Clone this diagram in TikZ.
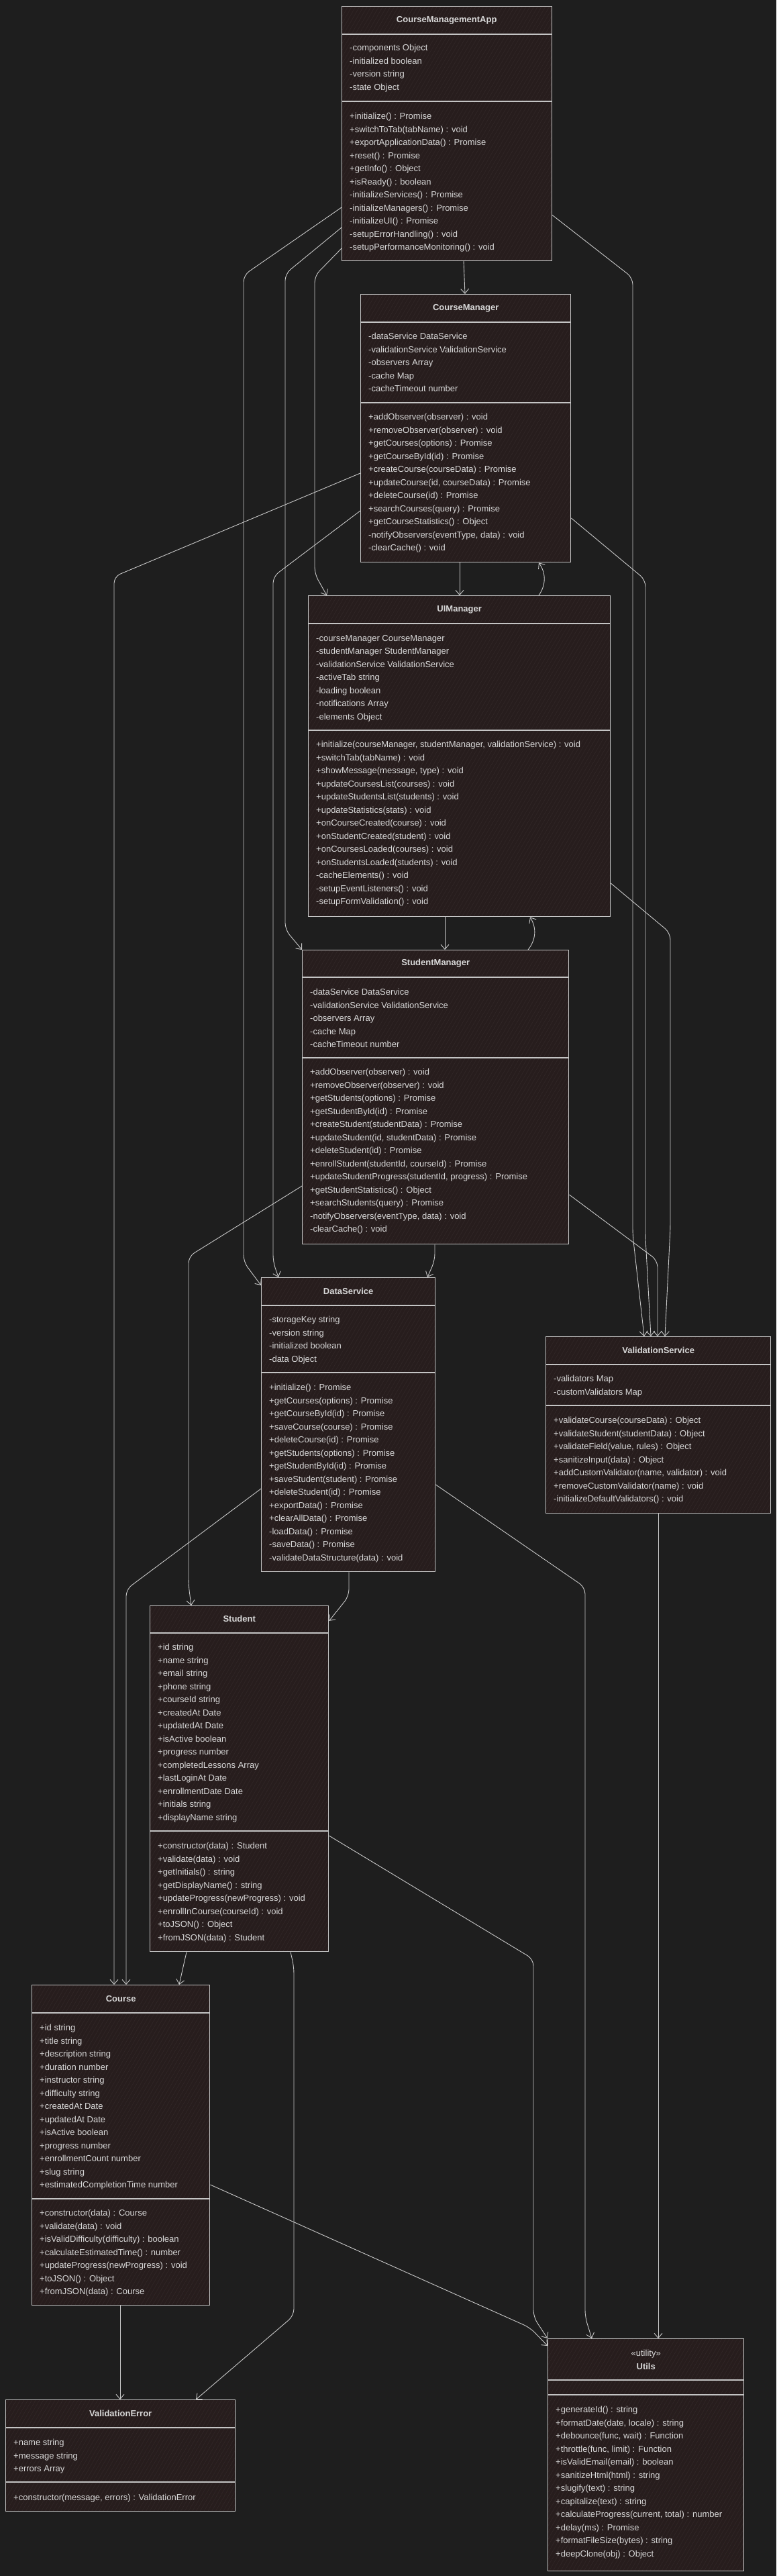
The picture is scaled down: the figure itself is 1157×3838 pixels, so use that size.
\documentclass[tikz,border=0pt]{standalone}
\usepackage{fontspec}
\setmainfont{Liberation Sans}
\usepackage{tikz}
\usetikzlibrary{arrows.meta,patterns.meta}

\definecolor{bgcol}{HTML}{1E1E1E}
\definecolor{boxfill}{HTML}{271D1D}
\definecolor{boxhatch}{HTML}{332929}
\definecolor{boxline}{HTML}{C4C4C4}
\definecolor{linkcol}{HTML}{C8C8C8}
\definecolor{txt}{HTML}{D8D8D8}

\begin{document}
\begin{tikzpicture}[x=1pt,y=-1pt]
            \tikzstyle{classbox}=[anchor=north west, inner sep=0pt, draw=boxline, line width=1.4pt, preaction={fill=boxfill}, pattern={Lines[angle=60,distance=5pt,line width=0.5pt]}, pattern color=boxhatch]
            \tikzstyle{divider}=[draw=boxline, line width=1.2pt]
            \tikzstyle{title}=[inner sep=0pt, text=txt, align=center, font=\bfseries\fontsize{13pt}{20pt}\selectfont]
            \tikzstyle{members}=[anchor=north west, inner sep=0pt, text=txt, align=left, font=\fontsize{13pt}{19.5pt}\selectfont, execute at begin node={\rule{0pt}{10pt}}]
            \tikzstyle{dep}=[draw=linkcol, line width=0.9pt, rounded corners=10pt, -{Straight Barb[length=7pt,width=12pt]}]
            \useasboundingbox (0,0) rectangle (1157,3838);
            \fill[bgcol] (0,0) rectangle (1157,3838);

            % CourseManagementApp
            \node[classbox, minimum width=313pt, minimum height=379pt] (app) at (509,9) {};
            \draw[divider] (app.west |- 0,51) -- (app.east |- 0,51);
            \draw[divider] (app.west |- 0,151) -- (app.east |- 0,151);
            \node[title] at (app.north |- 0,30) {CourseManagementApp};
            \node[members, xshift=12pt] at (app.west |- 0,66) {-components Object\\-initialized boolean\\-version string\\-state Object};
            \node[members, xshift=12pt] at (app.west |- 0,168) {+initialize() : Promise\\+switchToTab(tabName) : void\\+exportApplicationData() : Promise\\+reset() : Promise\\+getInfo() : Object\\+isReady() : boolean\\-initializeServices() : Promise\\-initializeManagers() : Promise\\-initializeUI() : Promise\\-setupErrorHandling() : void\\-setupPerformanceMonitoring() : void};

            % CourseManager
            \node[classbox, minimum width=313pt, minimum height=399pt] (cm) at (537,438) {};
            \draw[divider] (cm.west |- 0,480) -- (cm.east |- 0,480);
            \draw[divider] (cm.west |- 0,600) -- (cm.east |- 0,600);
            \node[title] at (cm.north |- 0,459) {CourseManager};
            \node[members, xshift=12pt] at (cm.west |- 0,496) {-dataService DataService\\-validationService ValidationService\\-observers Array\\-cache Map\\-cacheTimeout number};
            \node[members, xshift=12pt] at (cm.west |- 0,616) {+addObserver(observer) : void\\+removeObserver(observer) : void\\+getCourses(options) : Promise\\+getCourseById(id) : Promise\\+createCourse(courseData) : Promise\\+updateCourse(id, courseData) : Promise\\+deleteCourse(id) : Promise\\+searchCourses(query) : Promise\\+getCourseStatistics() : Object\\-notifyObservers(eventType, data) : void\\-clearCache() : void};

            % UIManager
            \node[classbox, minimum width=450pt, minimum height=478pt] (ui) at (459,887) {};
            \draw[divider] (ui.west |- 0,929) -- (ui.east |- 0,929);
            \draw[divider] (ui.west |- 0,1088) -- (ui.east |- 0,1088);
            \node[title] at (ui.north |- 0,908) {UIManager};
            \node[members, xshift=12pt] at (ui.west |- 0,946) {-courseManager CourseManager\\-studentManager StudentManager\\-validationService ValidationService\\-activeTab string\\-loading boolean\\-notifications Array\\-elements Object};
            \node[members, xshift=12pt] at (ui.west |- 0,1104) {+initialize(courseManager, studentManager, validationService) : void\\+switchTab(tabName) : void\\+showMessage(message, type) : void\\+updateCoursesList(courses) : void\\+updateStudentsList(students) : void\\+updateStatistics(stats) : void\\+onCourseCreated(course) : void\\+onStudentCreated(student) : void\\+onCoursesLoaded(courses) : void\\+onStudentsLoaded(students) : void\\-cacheElements() : void\\-setupEventListeners() : void\\-setupFormValidation() : void};

            % StudentManager
            \node[classbox, minimum width=397pt, minimum height=438pt] (sm) at (450,1415) {};
            \draw[divider] (sm.west |- 0,1456) -- (sm.east |- 0,1456);
            \draw[divider] (sm.west |- 0,1576) -- (sm.east |- 0,1576);
            \node[title] at (sm.north |- 0,1435) {StudentManager};
            \node[members, xshift=12pt] at (sm.west |- 0,1473) {-dataService DataService\\-validationService ValidationService\\-observers Array\\-cache Map\\-cacheTimeout number};
            \node[members, xshift=12pt] at (sm.west |- 0,1592) {+addObserver(observer) : void\\+removeObserver(observer) : void\\+getStudents(options) : Promise\\+getStudentById(id) : Promise\\+createStudent(studentData) : Promise\\+updateStudent(id, studentData) : Promise\\+deleteStudent(id) : Promise\\+enrollStudent(studentId, courseId) : Promise\\+updateStudentProgress(studentId, progress) : Promise\\+getStudentStatistics() : Object\\+searchStudents(query) : Promise\\-notifyObservers(eventType, data) : void\\-clearCache() : void};

            % DataService
            \node[classbox, minimum width=259pt, minimum height=438pt] (ds) at (389,1903) {};
            \draw[divider] (ds.west |- 0,1945) -- (ds.east |- 0,1945);
            \draw[divider] (ds.west |- 0,2045) -- (ds.east |- 0,2045);
            \node[title] at (ds.north |- 0,1924) {DataService};
            \node[members, xshift=12pt] at (ds.west |- 0,1961) {-storageKey string\\-version string\\-initialized boolean\\-data Object};
            \node[members, xshift=12pt] at (ds.west |- 0,2062) {+initialize() : Promise\\+getCourses(options) : Promise\\+getCourseById(id) : Promise\\+saveCourse(course) : Promise\\+deleteCourse(id) : Promise\\+getStudents(options) : Promise\\+getStudentById(id) : Promise\\+saveStudent(student) : Promise\\+deleteStudent(id) : Promise\\+exportData() : Promise\\+clearAllData() : Promise\\-loadData() : Promise\\-saveData() : Promise\\-validateDataStructure(data) : void};

            % ValidationService
            \node[classbox, minimum width=335pt, minimum height=263pt] (vs) at (813,1991) {};
            \draw[divider] (vs.west |- 0,2033) -- (vs.east |- 0,2033);
            \draw[divider] (vs.west |- 0,2094) -- (vs.east |- 0,2094);
            \node[title] at (vs.north |- 0,2012) {ValidationService};
            \node[members, xshift=12pt] at (vs.west |- 0,2049) {-validators Map\\-customValidators Map};
            \node[members, xshift=12pt] at (vs.west |- 0,2111) {+validateCourse(courseData) : Object\\+validateStudent(studentData) : Object\\+validateField(value, rules) : Object\\+sanitizeInput(data) : Object\\+addCustomValidator(name, validator) : void\\+removeCustomValidator(name) : void\\-initializeDefaultValidators() : void};

            % Student
            \node[classbox, minimum width=266pt, minimum height=515pt] (st) at (223,2392) {};
            \draw[divider] (st.west |- 0,2433) -- (st.east |- 0,2433);
            \draw[divider] (st.west |- 0,2728) -- (st.east |- 0,2728);
            \node[title] at (st.north |- 0,2412) {Student};
            \node[members, xshift=12pt] at (st.west |- 0,2449) {+id string\\+name string\\+email string\\+phone string\\+courseId string\\+createdAt Date\\+updatedAt Date\\+isActive boolean\\+progress number\\+completedLessons Array\\+lastLoginAt Date\\+enrollmentDate Date\\+initials string\\+displayName string};
            \node[members, xshift=12pt] at (st.west |- 0,2745) {+constructor(data) : Student\\+validate(data) : void\\+getInitials() : string\\+getDisplayName() : string\\+updateProgress(newProgress) : void\\+enrollInCourse(courseId) : void\\+toJSON() : Object\\+fromJSON(data) : Student};

            % Course
            \node[classbox, minimum width=265pt, minimum height=477pt] (co) at (47,2957) {};
            \draw[divider] (co.west |- 0,2999) -- (co.east |- 0,2999);
            \draw[divider] (co.west |- 0,3276) -- (co.east |- 0,3276);
            \node[title] at (co.north |- 0,2978) {Course};
            \node[members, xshift=12pt] at (co.west |- 0,3016) {+id string\\+title string\\+description string\\+duration number\\+instructor string\\+difficulty string\\+createdAt Date\\+updatedAt Date\\+isActive boolean\\+progress number\\+enrollmentCount number\\+slug string\\+estimatedCompletionTime number};
            \node[members, xshift=12pt] at (co.west |- 0,3292) {+constructor(data) : Course\\+validate(data) : void\\+isValidDifficulty(difficulty) : boolean\\+calculateEstimatedTime() : number\\+updateProgress(newProgress) : void\\+toJSON() : Object\\+fromJSON(data) : Course};

            % Utils
            \node[classbox, minimum width=292pt, minimum height=346pt] (ut) at (816,3484) {};
            \draw[divider] (ut.west |- 0,3546) -- (ut.east |- 0,3546);
            \draw[divider] (ut.west |- 0,3568) -- (ut.east |- 0,3568);
            \node[title] at (ut.north |- 0,3516) {{\mdseries «utility»}\\Utils};
            \node[members, xshift=12pt] at (ut.west |- 0,3585) {+generateId() : string\\+formatDate(date, locale) : string\\+debounce(func, wait) : Function\\+throttle(func, limit) : Function\\+isValidEmail(email) : boolean\\+sanitizeHtml(html) : string\\+slugify(text) : string\\+capitalize(text) : string\\+calculateProgress(current, total) : number\\+delay(ms) : Promise\\+formatFileSize(bytes) : string\\+deepClone(obj) : Object};

            % ValidationError
            \node[classbox, minimum width=342pt, minimum height=166pt] (ve) at (8,3575) {};
            \draw[divider] (ve.west |- 0,3617) -- (ve.east |- 0,3617);
            \draw[divider] (ve.west |- 0,3698) -- (ve.east |- 0,3698);
            \node[title] at (ve.north |- 0,3596) {ValidationError};
            \node[members, xshift=12pt] at (ve.west |- 0,3634) {+name string\\+message string\\+errors Array};
            \node[members, xshift=12pt] at (ve.west |- 0,3715) {+constructor(message, errors) : ValidationError};

            % dependencies
            \draw[dep] (app.south -| 691,0) -- (cm.north -| 693,0);
            \draw[dep] (app.west |- 0,370) -- (469,411) -- (469,855) -- (ui.north -| 487,0);
            \draw[dep] (app.west |- 0,339) -- (425,408) -- (425,1385) -- (sm.north west);
            \draw[dep] (app.west |- 0,309) -- (363,410) -- (363,1880) -- (ds.west |- 0,1915);
            \draw[dep] (app.east |- 0,320) -- (943,414) -- (943,1840) -- (vs.north -| 960,0);
            \draw[dep] (cm.south -| 685,0) -- (ui.north -| 685,0);
            \draw[dep] (cm.west |- 0,705) -- (170,859) -- (co.north -| 170,0);
            \draw[dep] (cm.west |- 0,761) -- (407,859) -- (407,1880) -- (ds.north -| 415,0);
            \draw[dep] (cm.east |- 0,772) -- (962,864) -- (962,1845) -- (vs.north -| 970,0);
            \draw[dep] (ui.north -| 803,0) to[bend right=35] (cm.south -| 803,0);
            \draw[dep] (ui.south -| 663,0) -- (sm.north -| 663,0);
            \draw[dep] (ui.east |- 0,1316) -- (999,1390) -- (999,1830) -- (vs.north -| 991,0);
            \draw[dep] (sm.north -| 787,0) to[bend right=35] (ui.south -| 790,0);
            \draw[dep] (sm.south -| 648,0) -- (648,1878) -- (ds.north -| 637,0);
            \draw[dep] (sm.west |- 0,1767) -- (281,1872) -- (281,2362) -- (st.north -| 285,0);
            \draw[dep] (sm.east |- 0,1780) -- (980,1878) -- (vs.north -| 980,0);
            \draw[dep] (ds.west |- 0,2218) -- (188,2368) -- (co.north -| 188,0);
            \draw[dep] (ds.south -| 520,0) -- (520,2378) -- (st.east |- 0,2415);
            \draw[dep] (ds.east |- 0,2212) -- (872,2365) -- (872,3452) -- (ut.north -| 882,0);
            \draw[dep] (st.south -| 278,0) -- (co.north -| 267,0);
            \draw[dep] (st.south -| 433,0) -- (438,2930) -- (438,3450) -- (ve.north -| 292,0);
            \draw[dep] (st.east |- 0,2735) -- (795,2919) -- (795,3452) -- (ut.north west);
            \draw[dep] (vs.south -| 981,0) -- (ut.north -| 981,0);
            \draw[dep] (co.south -| 179,0) -- (ve.north -| 179,0);
            \draw[dep] (co.east |- 0,3255) -- (790,3468) -- (ut.west |- 0,3495);
\end{tikzpicture}
\end{document}
